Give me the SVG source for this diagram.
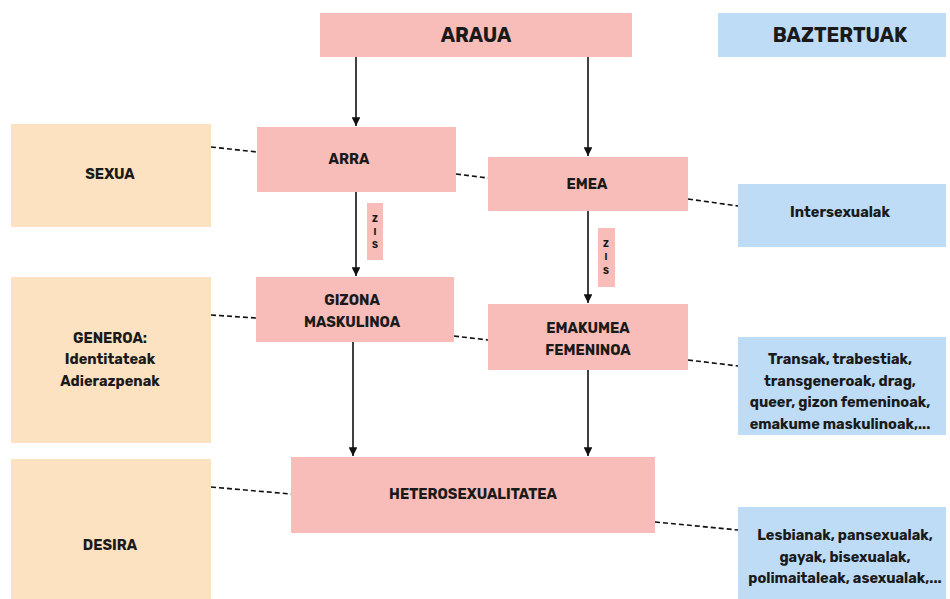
<svg xmlns="http://www.w3.org/2000/svg" width="950" height="599" viewBox="0 0 950 599">
<style>
.pink{fill:#f9bdb9}
.peach{fill:#fde2c2}
.blue{fill:#bfdcf7}
text{font-family:Rubik,Roboto,"Liberation Sans",sans-serif;font-weight:700;fill:#1a1a1a;text-anchor:middle;dominant-baseline:central;font-size:14.5px}
.big{font-size:20px}
.sm{font-size:9px}
.arrow{stroke:#111;stroke-width:1.6;fill:none;marker-end:url(#ah)}
.dash{stroke:#111;stroke-width:1.6;fill:none;stroke-dasharray:5 3}
</style>
<defs>
<marker id="ah" viewBox="0 0 10 10" refX="10" refY="5" markerWidth="5.5" markerHeight="5.5" orient="auto" markerUnits="strokeWidth">
<path d="M0,0 L10,5 L0,10 z" fill="#111"/>
</marker>
</defs>
<rect width="950" height="599" fill="#fff"/>
<g id="connectors">
<line class="arrow" x1="356" y1="57" x2="356" y2="126"/>
<line class="arrow" x1="588" y1="57" x2="588" y2="156"/>
<line class="arrow" x1="356" y1="192" x2="356" y2="276"/>
<line class="arrow" x1="588" y1="211" x2="588" y2="303"/>
<line class="arrow" x1="353" y1="342" x2="353" y2="456"/>
<line class="arrow" x1="588" y1="370" x2="588" y2="456"/>
<line class="dash" x1="211" y1="147" x2="257" y2="152"/>
<line class="dash" x1="456" y1="174" x2="488" y2="178"/>
<line class="dash" x1="688" y1="199" x2="738" y2="206"/>
<line class="dash" x1="211" y1="315" x2="256" y2="318"/>
<line class="dash" x1="454" y1="336" x2="488" y2="340"/>
<line class="dash" x1="688" y1="360" x2="738" y2="366"/>
<line class="dash" x1="211" y1="487" x2="291" y2="494"/>
<line class="dash" x1="655" y1="522" x2="738" y2="530"/>
</g>
<g id="araua"><rect class="pink" x="320" y="13" width="312" height="44"/><text class="big" x="476" y="35">ARAUA</text></g>
<g id="baztertuak"><rect class="blue" x="718" y="13" width="228" height="44"/><text class="big" x="840" y="35">BAZTERTUAK</text></g>
<g id="sexua"><rect class="peach" x="11" y="124" width="200" height="103"/><text x="110" y="174">SEXUA</text></g>
<g id="generoa"><rect class="peach" x="11" y="277" width="200" height="166"/><text x="110" y="338">GENEROA:</text><text x="110" y="359">Identitateak</text><text x="110" y="381">Adierazpenak</text></g>
<g id="desira"><rect class="peach" x="11" y="459" width="200" height="140"/><text x="110" y="545">DESIRA</text></g>
<g id="arra"><rect class="pink" x="257" y="127" width="199" height="65"/><text x="349" y="159">ARRA</text></g>
<g id="emea"><rect class="pink" x="488" y="157" width="200" height="54"/><text x="587" y="184">EMEA</text></g>
<g id="zis1"><rect class="pink" x="367" y="203" width="16" height="57"/><text class="sm" x="375" y="219">Z</text><text class="sm" x="375" y="232">I</text><text class="sm" x="375" y="245">S</text></g>
<g id="zis2"><rect class="pink" x="598" y="228" width="17" height="59"/><text class="sm" x="606" y="244">Z</text><text class="sm" x="606" y="257">I</text><text class="sm" x="606" y="271">S</text></g>
<g id="gizona"><rect class="pink" x="256" y="277" width="198" height="65"/><text x="352" y="300">GIZONA</text><text x="352" y="322">MASKULINOA</text></g>
<g id="emakumea"><rect class="pink" x="488" y="304" width="200" height="66"/><text x="588" y="328">EMAKUMEA</text><text x="588" y="350">FEMENINOA</text></g>
<g id="hetero"><rect class="pink" x="291" y="457" width="364" height="76"/><text x="473" y="494">HETEROSEXUALITATEA</text></g>
<g id="intersexualak"><rect class="blue" x="738" y="184" width="208" height="63"/><text x="840" y="212">Intersexualak</text></g>
<g id="transak"><rect class="blue" x="738" y="337" width="208" height="98"/><text x="840" y="359">Transak, trabestiak,</text><text x="840" y="381">transgeneroak, drag,</text><text x="840" y="402">queer, gizon femeninoak,</text><text x="840" y="424">emakume maskulinoak,...</text></g>
<g id="lesbianak"><rect class="blue" x="738" y="507" width="208" height="92"/><text x="845" y="535">Lesbianak, pansexualak,</text><text x="845" y="557">gayak, bisexualak,</text><text x="845" y="578">polimaitaleak, asexualak,...</text></g>
</svg>
